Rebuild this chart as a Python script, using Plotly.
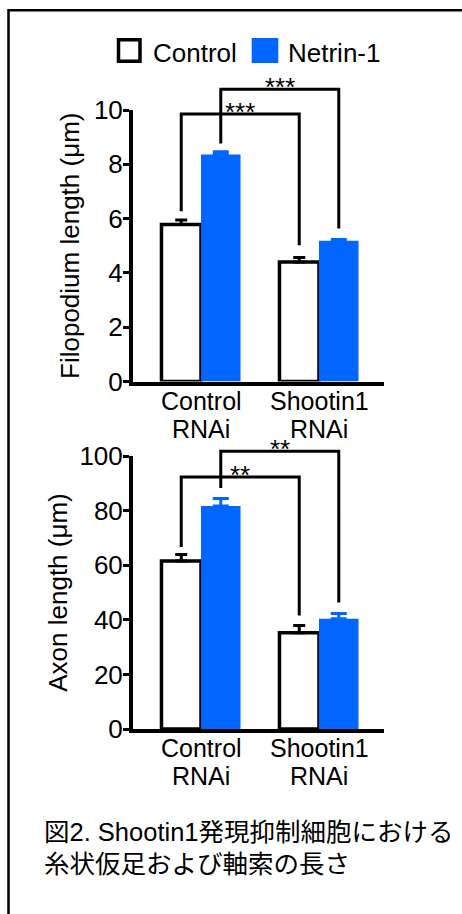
import plotly.graph_objects as go

W, H = 462, 914

# ---------------- data ----------------
categories = ["Control RNAi", "Shootin1 RNAi"]
label_line1 = ["Control", "Shootin1"]
label_line2 = ["RNAi", "RNAi"]
series_names = ["Control", "Netrin-1"]
series_colors = ["#FFFFFF", "#0066FF"]

filo_control = [5.78, 4.40]
filo_control_err = [0.17, 0.17]
filo_netrin = [8.36, 5.18]
filo_netrin_err = [0.10, 0.05]

axon_control = [61.5, 35.3]
axon_control_err = [2.4, 2.6]
axon_netrin = [81.7, 40.4]
axon_netrin_err = [2.7, 1.9]

filo_ticks = [0, 2, 4, 6, 8, 10]
axon_ticks = [0, 20, 40, 60, 80, 100]

# significance brackets (compare same series between the two groups)
sig_series = [0, 1]
filo_sig_top = [9.85, 10.76]
filo_sig_left_end = [6.27, 8.77]
filo_sig_right_end = [5.02, 5.64]
filo_sig_labels = ["***", "***"]
axon_sig_top = [92.3, 101.7]
axon_sig_left_end = [66.7, 88.3]
axon_sig_right_end = [41.6, 46.3]
axon_sig_labels = ["**", "**"]

caption_lines = ["図2. Shootin1発現抑制細胞における", "糸状仮足および軸索の長さ"]

# ---------------- layout helpers (pixels) ----------------
FONT = "Liberation Sans, Arial, sans-serif"
CJK_FONT = "Liberation Sans, Noto Sans CJK JP, sans-serif"
BLUE = series_colors[1]
PLOT_LEFT, PLOT_RIGHT = 133, 384
GROUP_PX = [201, 319]
TOP_PX = (110, 381.5, 10, 11.5)    # top px, zero px, axis max, bracket-layer max
BOT_PX = (456, 729, 100, 108)
BARGAP = 0.33


def py(p):
    return 1 - p / H


def px(p):
    return p / W


unit = GROUP_PX[1] - GROUP_PX[0]
x_range = [-(GROUP_PX[0] - PLOT_LEFT) / unit, (PLOT_RIGHT - GROUP_PX[0]) / unit]
x_domain = [px(PLOT_LEFT), px(PLOT_RIGHT)]
half = (1 - BARGAP) / 4

fig = go.Figure()
layout_axes = {}
annotations = []
shapes = []


def add_chart(idx, ctrl, ctrl_err, net, net_err, ticks, title, geom,
              sig_top, sig_l, sig_r, sig_labels, standoff):
    top_px, zero_px, ymax, ymax_b = geom
    xa, ya = f"x{idx}" if idx > 1 else "x", f"y{idx}" if idx > 1 else "y"
    xb, yb = f"x{idx + 2}", f"y{idx + 2}"
    scale = (zero_px - top_px) / ymax
    dom = [py(zero_px), py(top_px)]
    dom_b = [py(zero_px), py(zero_px - ymax_b * scale)]

    fig.add_trace(go.Bar(
        x=categories, y=ctrl, name=series_names[0], xaxis=xa, yaxis=ya,
        marker=dict(color=series_colors[0], line=dict(color="black", width=3.5)),
        error_y=dict(type="data", symmetric=False, array=ctrl_err,
                     arrayminus=[0] * len(ctrl), color="black",
                     thickness=3, width=6),
        showlegend=False, hoverinfo="skip"))
    fig.add_trace(go.Bar(
        x=categories, y=net, name=series_names[1], xaxis=xa, yaxis=ya,
        marker=dict(color=BLUE, line=dict(width=0)),
        error_y=dict(type="data", symmetric=False, array=net_err,
                     arrayminus=[0] * len(net), color=BLUE,
                     thickness=3, width=8),
        showlegend=False, hoverinfo="skip"))

    for s, t, l, r, lab in zip(sig_series, sig_top, sig_l, sig_r, sig_labels):
        off = -half if s == 0 else half
        xl, xr = 0 + off, 1 + off
        fig.add_trace(go.Scatter(
            x=[xl, xl, xr, xr], y=[l, t, t, r], mode="lines",
            line=dict(color="black", width=3), xaxis=xb, yaxis=yb,
            showlegend=False, hoverinfo="skip"))
        annotations.append(dict(
            x=(xl + xr) / 2, y=t, xref=xb, yref=yb, text=lab,
            showarrow=False, yanchor="middle", yshift=2,
            font=dict(family=FONT, size=26, color="black")))

    for c, l1, l2 in zip(categories, label_line1, label_line2):
        annotations.append(dict(x=c, y=py(zero_px + 19), xref=xa, yref="paper",
                                text=l1, showarrow=False, yanchor="middle",
                                font=dict(family=FONT, size=25, color="black")))
        annotations.append(dict(x=c, y=py(zero_px + 47), xref=xa, yref="paper",
                                text=l2, showarrow=False, yanchor="middle",
                                font=dict(family=FONT, size=25, color="black")))

    key = "" if idx == 1 else str(idx)
    layout_axes["xaxis" + key] = dict(
        domain=x_domain, anchor=ya, type="category", range=x_range,
        showline=True, linewidth=4, linecolor="black", ticks="",
        showticklabels=False, showgrid=False, zeroline=False,
        automargin=False, fixedrange=True)
    layout_axes["yaxis" + key] = dict(
        domain=dom, anchor=xa, range=[0, ymax], tickvals=ticks,
        ticks="outside", ticklen=6, tickwidth=3, tickcolor="black",
        ticklabelstandoff=-5,
        showline=True, linewidth=4, linecolor="black",
        tickfont=dict(family=FONT, size=26, color="black"),
        title=dict(text=title, standoff=standoff,
                   font=dict(family=FONT, size=26, color="black")),
        showgrid=False, zeroline=False, automargin=False, fixedrange=True)
    layout_axes["xaxis" + str(idx + 2)] = dict(
        domain=x_domain, anchor=yb, range=x_range, visible=False,
        automargin=False, fixedrange=True)
    layout_axes["yaxis" + str(idx + 2)] = dict(
        domain=dom_b, anchor=xb, range=[0, ymax_b], visible=False,
        automargin=False, fixedrange=True)


add_chart(1, filo_control, filo_control_err, filo_netrin, filo_netrin_err,
          filo_ticks, "Filopodium length (μm)", TOP_PX,
          filo_sig_top, filo_sig_left_end, filo_sig_right_end, filo_sig_labels, 8)
add_chart(2, axon_control, axon_control_err, axon_netrin, axon_netrin_err,
          axon_ticks, "Axon length (μm)", BOT_PX,
          axon_sig_top, axon_sig_left_end, axon_sig_right_end, axon_sig_labels, 5)

# ---------------- manual legend ----------------
shapes.append(dict(type="rect", xref="paper", yref="paper",
                   x0=px(118.5), x1=px(140), y0=py(39.8), y1=py(61.2),
                   line=dict(color="black", width=3.5), fillcolor=series_colors[0]))
shapes.append(dict(type="rect", xref="paper", yref="paper",
                   x0=px(251.7), x1=px(278.3), y0=py(38), y1=py(63),
                   line=dict(width=0), fillcolor=BLUE))
annotations.append(dict(x=px(151), y=py(52.7), xref="paper", yref="paper",
                        text=series_names[0], showarrow=False, xanchor="left",
                        yanchor="middle", font=dict(family=FONT, size=26, color="black")))
annotations.append(dict(x=px(286), y=py(52.7), xref="paper", yref="paper",
                        text=series_names[1], showarrow=False, xanchor="left",
                        yanchor="middle", font=dict(family=FONT, size=26, color="black")))

# ---------------- caption & frame ----------------
for i, line in enumerate(caption_lines):
    annotations.append(dict(x=px(42), y=py(832 + 32 * i), xref="paper", yref="paper",
                            text=line, showarrow=False, xanchor="left",
                            yanchor="middle", align="left",
                            font=dict(family=CJK_FONT, size=25.5, color="black")))
shapes.append(dict(type="rect", xref="paper", yref="paper",
                   x0=px(8.5), x1=px(480), y0=py(930), y1=py(10.3),
                   line=dict(color="black", width=2.5), fillcolor="rgba(0,0,0,0)"))

fig.update_layout(
    template="none",
    width=W, height=H, autosize=False,
    margin=dict(l=0, r=0, t=0, b=0, pad=0, autoexpand=False),
    paper_bgcolor="white", plot_bgcolor="rgba(0,0,0,0)",
    barmode="group", bargap=BARGAP, bargroupgap=0,
    showlegend=False,
    annotations=annotations, shapes=shapes,
    **layout_axes)

post = ("document.body.style.margin='0';document.body.style.padding='0';"
        "document.body.style.overflow='hidden';"
        "var d=document.getElementById('{plot_id}');"
        "d.style.position='absolute';d.style.left='0px';d.style.top='0px';")

fig.write_html("out.html", post_script=post,
               config={"displayModeBar": False, "responsive": False})
